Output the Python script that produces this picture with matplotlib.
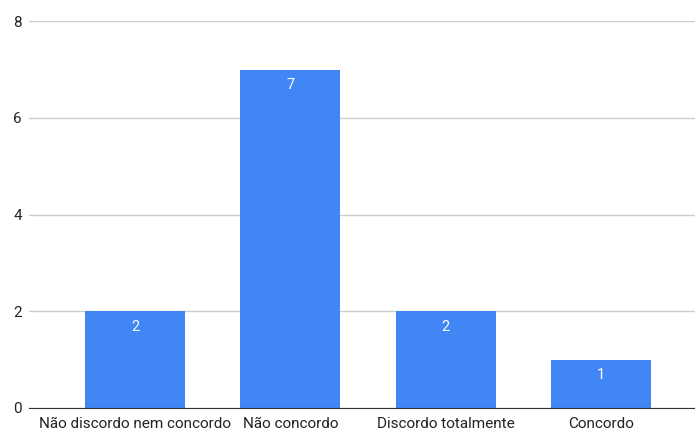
import matplotlib.pyplot as plt

plt.rcParams['font.family'] = ['Roboto', 'DejaVu Sans']

# Responses per answer option
categories = ['Não discordo nem concordo', 'Não concordo', 'Discordo totalmente', 'Concordo']
counts = [2, 7, 2, 1]
yticks = [0, 2, 4, 6, 8]

fig = plt.figure(figsize=(6.95, 4.32), dpi=100)
ax = fig.add_axes([0.0417, 0.0556, 0.9583, 0.8954])

x = range(len(categories))
bars = ax.bar(x, counts, width=0.645, color='#4285F4', zorder=2)

for b, v in zip(bars, counts):
    ax.text(b.get_x() + b.get_width() / 2, v - 0.32, str(v),
            ha='center', va='center', color='white', fontsize=10.5, zorder=3)

ax.set_xlim(-0.684, 3.606)
ax.set_ylim(0, 8)
ax.set_yticks(yticks)
ax.set_xticks(list(x))
ax.set_xticklabels(categories)
ax.grid(axis='y', color='#cccccc', linewidth=1, zorder=0)
ax.tick_params(axis='both', length=0, labelsize=11, labelcolor='#222222')
ax.tick_params(axis='y', pad=5)
ax.tick_params(axis='x', pad=6.5)

for side in ['top', 'right', 'left']:
    ax.spines[side].set_visible(False)
ax.spines['bottom'].set_color('#333333')
ax.spines['bottom'].set_zorder(4)

fig.savefig('out.png', dpi=100)
